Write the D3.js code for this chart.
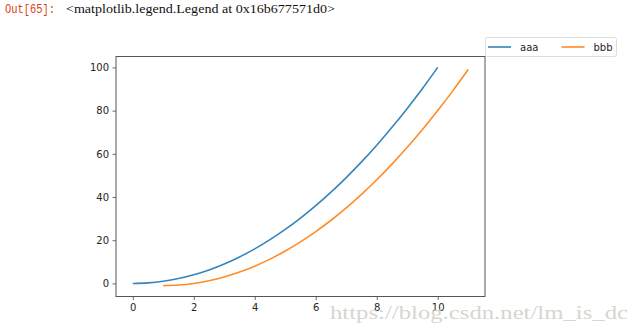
<!DOCTYPE html>
<html>
<head>
<meta charset="utf-8">
<script src="https://cdn.jsdelivr.net/npm/d3@7"></script>
<style>
  body { margin: 0; background: #fff; }
  svg { display: block; }
</style>
</head>
<body>
<div id="chart"></div>
<script>
// series values
const aaaX = [0, 0.5, 1, 1.5, 2, 2.5, 3, 3.5, 4, 4.5, 5, 5.5, 6, 6.5, 7, 7.5, 8, 8.5, 9, 9.5, 10];
const aaaY = [0, 0.25, 1, 2.25, 4, 6.25, 9, 12.25, 16, 20.25, 25, 30.25, 36, 42.25, 49, 56.25, 64, 72.25, 81, 90.25, 100];
const bbbX = [1, 1.5, 2, 2.5, 3, 3.5, 4, 4.5, 5, 5.5, 6, 6.5, 7, 7.5, 8, 8.5, 9, 9.5, 10, 10.5, 11];
const bbbY = [-1, -0.75, 0, 1.25, 3, 5.25, 8, 11.25, 15, 19.25, 24, 29.25, 35, 41.25, 48, 55.25, 63, 71.25, 80, 89.25, 99];
const seriesNames = ["aaa", "bbb"];
const xTicks = [0, 2, 4, 6, 8, 10];
const yTicks = [0, 20, 40, 60, 80, 100];

const W = 641, H = 334;
const plot = { left: 116, right: 485, top: 56.5, bottom: 296.5 };

const svg = d3.select("#chart").append("svg")
    .attr("width", W)
    .attr("height", H);

// notebook output prompt
svg.append("text")
    .attr("x", 5).attr("y", 13)
    .attr("fill", "#d84315")
    .style("font-family", "Liberation Mono, monospace")
    .style("font-size", "12.5px")
    .attr("textLength", 50).attr("lengthAdjust", "spacingAndGlyphs")
    .text("Out[65]:");
svg.append("text")
    .attr("x", 66).attr("y", 13)
    .attr("fill", "#111")
    .style("font-family", "Liberation Serif, serif")
    .style("font-size", "13px")
    .attr("textLength", 269).attr("lengthAdjust", "spacingAndGlyphs")
    .text("<matplotlib.legend.Legend at 0x16b677571d0>");

var x = d3.scaleLinear()
    .domain([-0.55, 11.55])
    .range([plot.left, plot.right]);

var y = d3.scaleLinear()
    .domain([-6.05, 105.05])
    .range([plot.bottom, plot.top]);

var color = d3.scaleOrdinal()
    .domain(seriesNames)
    .range(["#1f77b4", "#ff7f0e"]);

const axisFont = "DejaVu Sans, sans-serif";

// X axis
const gx = svg.append("g")
    .attr("transform", `translate(0, ${plot.bottom})`)
    .call(d3.axisBottom(x).tickValues(xTicks).tickSize(3.5).tickPadding(3.5).tickFormat(d3.format("d")));
gx.select(".domain").remove();

// Y axis
const gy = svg.append("g")
    .attr("transform", `translate(${plot.left}, 0)`)
    .call(d3.axisLeft(y).tickValues(yTicks).tickSize(3.5).tickPadding(3.5).tickFormat(d3.format("d")));
gy.select(".domain").remove();

[gx, gy].forEach(g => {
    g.selectAll("line").attr("stroke", "#444").attr("stroke-width", 0.8);
    g.selectAll("text")
        .attr("fill", "#262626")
        .style("font-family", axisFont)
        .style("font-size", "10px");
});

// lines
var line = d3.line()
    .x(d => x(d[0]))
    .y(d => y(d[1]))
    .curve(d3.curveMonotoneX);

const seriesData = [
    { name: "aaa", pts: d3.zip(aaaX, aaaY) },
    { name: "bbb", pts: d3.zip(bbbX, bbbY) }
];

svg.append("g")
    .selectAll("path")
    .data(seriesData)
    .enter().append("path")
    .attr("d", d => line(d.pts))
    .attr("fill", "none")
    .attr("stroke", d => color(d.name))
    .attr("stroke-width", 1.6)
    .attr("opacity", 0.9);

// frame
svg.append("rect")
    .attr("x", plot.left).attr("y", plot.top)
    .attr("width", plot.right - plot.left)
    .attr("height", plot.bottom - plot.top)
    .attr("fill", "none")
    .attr("stroke", "#555")
    .attr("stroke-width", 1);

// legend, outside to the upper right
var legend = svg.append("g");
legend.append("rect")
    .attr("x", 485.5).attr("y", 37.5)
    .attr("width", 131).attr("height", 19)
    .attr("rx", 2)
    .attr("fill", "#fff")
    .attr("stroke", "#ddd")
    .attr("stroke-width", 1);

var items = legend.selectAll(".legend")
    .data(seriesNames)
    .enter().append("g")
    .attr("class", "legend")
    .attr("transform", (d, i) => `translate(${488 + i * 73.5}, 47)`);

items.append("line")
    .attr("x1", 0).attr("x2", 23)
    .attr("stroke", color)
    .attr("stroke-width", 1.6)
    .attr("opacity", 0.9);

items.append("text")
    .attr("x", 32)
    .attr("dy", "0.35em")
    .attr("fill", "#262626")
    .style("font-family", axisFont)
    .style("font-size", "10px")
    .text(d => d);

// watermark (sits over the last x tick labels, as in the source image)
svg.append("text")
    .attr("x", 330).attr("y", 319)
    .attr("fill", "#d6d6ce")
    .style("font-family", "Liberation Serif, serif")
    .style("font-size", "18px")
    .attr("textLength", 298).attr("lengthAdjust", "spacingAndGlyphs")
    .text("https://blog.csdn.net/lm_is_dc");
</script>
</body>
</html>
